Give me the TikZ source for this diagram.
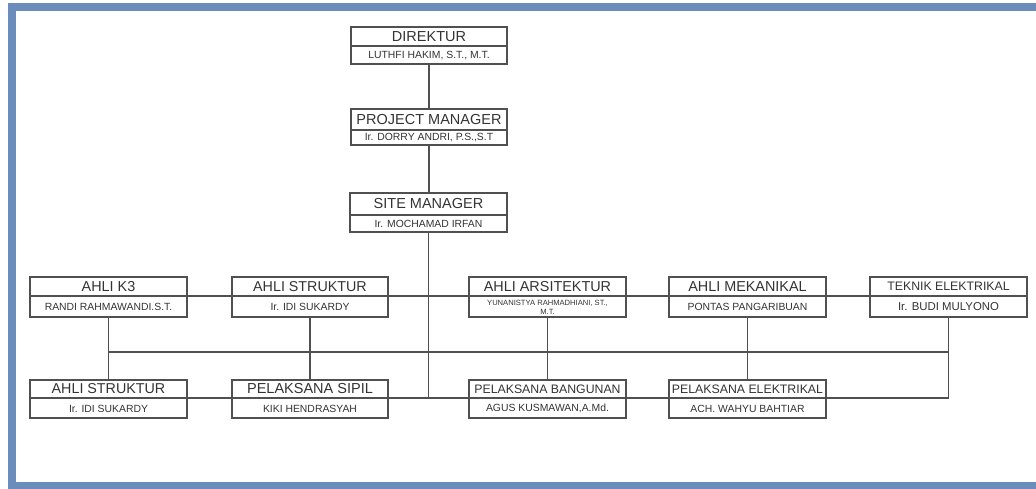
\documentclass[tikz,border=0pt]{standalone}
\usepackage{fontspec}
\setmainfont{Liberation Sans}
\definecolor{frameblue}{HTML}{6A8DBB}
\definecolor{linegray}{HTML}{505050}
\definecolor{txtgray}{HTML}{333333}
\def\subsz{10.4}
\tikzset{
  ln/.style={draw=linegray, line width=1.1pt},
  orgbox/.style={ln, rectangle, inner sep=0pt},
  ttl/.style={text=txtgray, font=\fontsize{#1}{16}\selectfont, inner sep=0pt},
  subtxt/.style={text=txtgray, font=\fontsize{\subsz}{12}\selectfont, inner sep=0pt},
  tinysub/.style={text=txtgray, font=\fontsize{7.6}{9.3}\selectfont, inner sep=0pt, align=center},
}
% #1 name, #2 left, #3 right, #4 top, #5 divider, #6 bottom, #7 title, #8 sub, #9 title size
\newcommand\orgunit[9]{%
  \node[orgbox, minimum width={(#3-#2)*1pt}, minimum height={(#6-#4)*1pt}] (#1) at ({(#2+#3)/2},{(#4+#6)/2}) {};
  \draw[ln] (#1.west |- 0,#5) -- (#1.east |- 0,#5);
  \node[ttl=#9] (#1-t) at ({(#2+#3)/2},{(#4+#5)/2}) {#7};
  \node[subtxt] (#1-s) at ({(#2+#3)/2},{(#5+#6)/2+0.5}) {#8};
}
\begin{document}
\begin{tikzpicture}[x=1pt,y=-1pt]
\useasboundingbox (0,0) rectangle (1036,489);
% frame
\fill[frameblue] (8,3) rectangle (1036,11);
\fill[frameblue] (8,3) rectangle (16,489);
\fill[frameblue] (8,482) rectangle (1036,489);

% top chain
\orgunit{dir}{351}{507}{27}{46}{64}{DIREKTUR}{LUTHFI HAKIM, S.T., M.T.}{14.5}
\orgunit{pm}{351}{507}{109}{130}{145}{PROJECT MANAGER}{Ir. DORRY ANDRI, P.S.,S.T}{14.5}
\orgunit{sm}{350}{507}{193}{215}{232}{SITE MANAGER}{Ir. MOCHAMAD IRFAN}{14.5}

% row 1
\orgunit{k3}{30}{187}{277}{296}{317}{AHLI K3}{RANDI RAHMAWANDI.S.T.}{14.4}
\orgunit{asa}{232}{388}{277}{296}{317}{AHLI STRUKTUR}{Ir. IDI SUKARDY}{14.3}
\node[orgbox, minimum width=157pt, minimum height=40pt] (ars) at (547.5,297) {};
\draw[ln] (ars.west |- 0,296) -- (ars.east |- 0,296);
\node[ttl=14.4] (ars-t) at (547.5,286.5) {AHLI ARSITEKTUR};
\node[tinysub] (ars-s) at (547.5,307) {YUNANISTYA RAHMADHIANI, ST.,\\M.T.};
\orgunit{mek}{669}{826}{277}{296}{317}{AHLI MEKANIKAL}{PONTAS PANGARIBUAN}{14.4}
\def\subsz{11.4}
\orgunit{tek}{870}{1027}{277}{296}{317}{TEKNIK ELEKTRIKAL}{Ir. BUDI MULYONO}{12.3}
\def\subsz{10.4}

% row 2
\orgunit{asb}{30}{187}{380}{398}{418}{AHLI STRUKTUR}{Ir. IDI SUKARDY}{14.3}
\orgunit{ps}{232}{388}{380}{398}{418}{PELAKSANA SIPIL}{KIKI HENDRASYAH}{14.5}
\orgunit{pb}{469}{626}{380}{398}{418}{PELAKSANA BANGUNAN}{AGUS KUSMAWAN,A.Md.}{12.3}
\orgunit{pe}{669}{826}{380}{398}{418}{PELAKSANA ELEKTRIKAL}{ACH. WAHYU BAHTIAR}{12.3}

% connectors
\coordinate (midline) at (0,352);
\coordinate (botline) at (0,398);
\coordinate (topline) at (0,296);
\draw[ln] (dir.south) -- (pm.north);
\draw[ln] (pm.south) -- (pm.south |- sm.north);
\draw[ln] (sm.south) -- (sm.south |- botline);
\draw[ln] (k3.east |- topline) -- (tek.west |- topline);
\draw[ln] (k3.south) -- (asb.north);
\draw[ln] (asa.south) -- (ps.north);
\draw[ln] (ars.south) -- (pb.north);
\draw[ln] (mek.south) -- (pe.north);
\draw[ln] (k3.south |- midline) -- (tek.south |- midline);
\draw[ln] (asb.east |- botline) -- (tek.south |- botline) -- (tek.south);
\end{tikzpicture}
\end{document}
